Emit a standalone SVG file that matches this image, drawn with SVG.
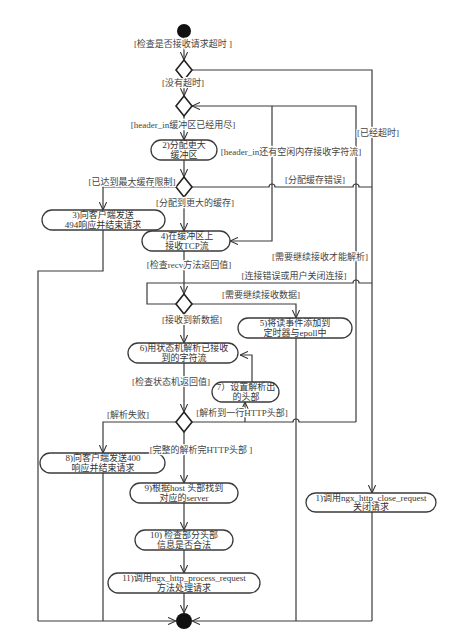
<svg xmlns="http://www.w3.org/2000/svg" width="451" height="630" viewBox="0 0 451 630">
<style>
.bg{fill:#fff}
.c{fill:none;stroke:#3a3a3a;stroke-width:1.2}
.ca{fill:none;stroke:#3a3a3a;stroke-width:1.2;marker-end:url(#a)}
.nd{fill:#fff;stroke:#3a3a3a;stroke-width:1.3}
.dm{fill:#fff;stroke:#222;stroke-width:1.6}
.t{font-family:"Liberation Serif","Noto Sans CJK SC",serif;font-size:9px;fill:#333;text-anchor:middle}
.l{font-family:"Liberation Serif","Noto Sans CJK SC",serif;font-size:9px;fill:#444;text-anchor:middle;paint-order:stroke;stroke:#fff;stroke-width:2.5px;stroke-linejoin:round}
</style>
<defs>
<marker id="a" viewBox="0 0 10 10" refX="10" refY="5" markerWidth="8" markerHeight="8" orient="auto" markerUnits="userSpaceOnUse">
<path d="M0,0.5 L10,5 L0,9.5" fill="none" stroke="#333" stroke-width="1.3"/>
</marker>
</defs>
<rect class="bg" x="0" y="0" width="451" height="630"/>

<g id="connectors">
<!-- main spine -->
<path class="ca" d="M184,38 V60"/>
<path class="ca" d="M184,80 V96"/>
<path class="ca" d="M184,116 V140"/>
<path class="ca" d="M184,160 V177"/>
<path class="ca" d="M184,197 V231"/>
<path class="ca" d="M184,251 V294"/>
<path class="ca" d="M184,314 V343"/>
<path class="ca" d="M184,363 V412"/>
<path class="ca" d="M184,432 V483"/>
<path class="ca" d="M184,503 V530"/>
<path class="ca" d="M184,550 V573"/>
<path class="ca" d="M184,593 V613"/>
<!-- timeout -->
<path class="ca" d="M192,70 H372 V493"/>
<path class="c" d="M372,512 V621"/>
<!-- loop back to diamond 2 -->
<path class="ca" d="M356,422 V106 H192"/>
<path class="ca" d="M272,106 V241 H230"/>
<!-- allocation error -->
<path class="c" d="M192,187 H269 a3,3 0 0 1 6,0 H353 a3,3 0 0 1 6,0 H372"/>
<!-- max buffer -->
<path class="ca" d="M176,187 H103 V210"/>
<path class="c" d="M103,230 V271 H38 V621"/>
<!-- connection error -->
<path class="c" d="M176,304 H147 V283 H353 a3,3 0 0 1 6,0 H372"/>
<!-- need more data -->
<path class="ca" d="M192,304 H296 V318"/>
<path class="c" d="M296,338 V621"/>
<!-- parse results -->
<path class="c" d="M192,422 H293 a3,3 0 0 1 6,0 H356"/>
<path class="ca" d="M245,422 V402"/>
<path class="ca" d="M252,382 V355 H240"/>
<path class="ca" d="M176,422 H103 V453"/>
<path class="c" d="M103,473 V621"/>
<!-- bottom -->
<path class="ca" d="M38,621 H176"/>
<path class="ca" d="M372,621 H192"/>
</g>

<g id="start"><circle cx="184" cy="31" r="7" fill="#111"/></g>
<g id="end"><circle cx="184" cy="621" r="8" fill="#111"/></g>

<g id="d1"><polygon class="dm" points="184,60 192,70 184,80 176,70"/></g>
<g id="d2"><polygon class="dm" points="184,96 192,106 184,116 176,106"/></g>
<g id="d3"><polygon class="dm" points="184,177 192,187 184,197 176,187"/></g>
<g id="d4"><polygon class="dm" points="184,294 192,304 184,314 176,304"/></g>
<g id="d5"><polygon class="dm" points="184,412 192,422 184,432 176,422"/></g>

<g id="n2"><rect class="nd" x="151" y="140" width="66" height="20" rx="10"/>
<text class="t" x="184" y="148">2)分配更大</text><text class="t" x="184" y="158">缓冲区</text></g>
<g id="n3"><rect class="nd" x="42" y="210" width="123" height="20" rx="10"/>
<text class="t" x="103" y="218">3)向客户端发送</text><text class="t" x="103" y="228">494响应并结束请求</text></g>
<g id="n4"><rect class="nd" x="142" y="231" width="88" height="20" rx="10"/>
<text class="t" x="187" y="239">4)在缓冲区上</text><text class="t" x="187" y="249">接收TCP流</text></g>
<g id="n5"><rect class="nd" x="238" y="318" width="114" height="20" rx="10"/>
<text class="t" x="295" y="326">5)将读事件添加到</text><text class="t" x="295" y="336">定时器与epoll中</text></g>
<g id="n6"><rect class="nd" x="128" y="343" width="110" height="20" rx="10"/>
<text class="t" x="184" y="351">6)用状态机解析已接收</text><text class="t" x="184" y="361">到的字符流</text></g>
<g id="n7"><rect class="nd" x="212" y="382" width="67" height="20" rx="10"/>
<text class="t" x="246" y="390">7）设置解析出</text><text class="t" x="246" y="400">的头部</text></g>
<g id="n8"><rect class="nd" x="40" y="453" width="125" height="20" rx="10"/>
<text class="t" x="103" y="461">8)向客户端发送400</text><text class="t" x="103" y="471">响应并结束请求</text></g>
<g id="n9"><rect class="nd" x="130" y="483" width="108" height="20" rx="10"/>
<text class="t" x="184" y="491">9)根据host 头部找到</text><text class="t" x="184" y="501">对应的server</text></g>
<g id="n10"><rect class="nd" x="135" y="530" width="98" height="20" rx="10"/>
<text class="t" x="184" y="538">10) 检查部分头部</text><text class="t" x="184" y="548">信息是否合法</text></g>
<g id="n11"><rect class="nd" x="108" y="573" width="152" height="20" rx="10"/>
<text class="t" x="184" y="581">11)调用ngx_http_process_request</text><text class="t" x="184" y="591">方法处理请求</text></g>
<g id="n1"><rect class="nd" x="306" y="493" width="130" height="19" rx="9.5"/>
<text class="t" x="371" y="501">1)调用ngx_http_close_request</text><text class="t" x="371" y="510">关闭请求</text></g>

<g id="labels">
<text class="l" x="183" y="47">[检查是否接收请求超时 ]</text>
<text class="l" x="183" y="86">[没有超时]</text>
<text class="l" x="183" y="128">[header_in缓冲区已经用尽]</text>
<text class="l" x="378" y="136">[已经超时]</text>
<text class="l" x="291" y="155">[header_in还有空闲内存接收字符流]</text>
<text class="l" x="132" y="185">[已达到最大缓存限制]</text>
<text class="l" x="315" y="183">[分配缓存错误]</text>
<text class="l" x="195" y="206">[分配到更大的缓存]</text>
<text class="l" x="320" y="260">[需要继续接收才能解析]</text>
<text class="l" x="189" y="268">[检查recv方法返回值]</text>
<text class="l" x="294" y="279">[连接错误或用户关闭连接]</text>
<text class="l" x="261" y="298">[需要继续接收数据]</text>
<text class="l" x="192" y="323">[接收到新数据]</text>
<text class="l" x="171" y="385">[检查状态机返回值]</text>
<text class="l" x="128" y="418">[解析失败]</text>
<text class="l" x="242" y="416">[解析到一行HTTP头部]</text>
<text class="l" x="201" y="453">[完整的解析完HTTP头部 ]</text>
</g>
</svg>
